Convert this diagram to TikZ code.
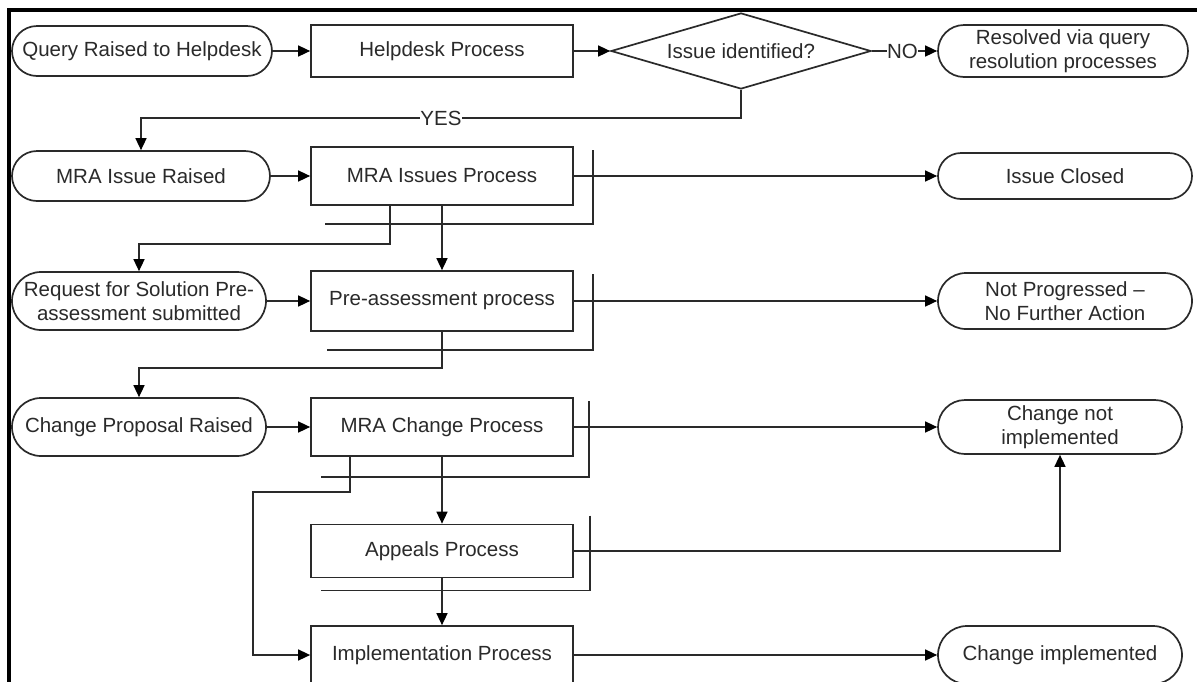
\documentclass[tikz,border=0pt]{standalone}
\usepackage{fontspec}
\setmainfont{Liberation Sans}
\usetikzlibrary{arrows.meta,shapes.geometric}

\definecolor{ink}{HTML}{2A2A2A}

\tikzset{
  base/.style={draw=ink, line width=1.7pt, text=ink,
    font=\fontsize{20.5}{23.5}\selectfont, align=center, inner sep=0pt},
  procbox/.style={base, rectangle, minimum width=262pt, minimum height=#1pt},
  term/.style n args={3}{base, rectangle, minimum width=#1pt,
    minimum height=#2pt, rounded corners=#3pt},
  decision/.style={base, diamond, aspect=3.4, minimum width=260pt, minimum height=76pt},
  conn/.style={draw=ink, line width=1.5pt,
    -{Triangle[length=12pt,width=11pt,fill=black,color=black]}},
  bracket/.style={draw=ink, line width=1.5pt},
  lbl/.style={fill=white, inner sep=0.5pt, text=ink, font=\fontsize{20.5}{23.5}\selectfont},
  frame/.style={draw=black, line width=3.5pt}
}

% side bracket drawn beside a process box:
% #1 node, #2/#3 shift of the upper end from the north east corner,
% #4/#5 shift of the lower-left end from the south west corner
\newcommand{\procbracket}[5]{%
  \draw[bracket] ([shift={(#2pt,#3pt)}]#1.north east)
    |- ([shift={(#4pt,#5pt)}]#1.south west);}

\begin{document}
\begin{tikzpicture}[x=1pt,y=-1pt]
  \fill[white] (0,0) rectangle (1197,681);
  \useasboundingbox (0,0) rectangle (1197,681);

  % page frame (top and left rules)
  \draw[frame] (9,700) -- (9,10) -- (1210,10);

  % row 1
  \node[term={260}{50}{25}] (q) at (142,51) {Query Raised to Helpdesk};
  \node[procbox=52] (hp) at (442,51) {Helpdesk Process};
  \node[decision] (dec) at (741,51) {Issue identified?};
  \node[term={250}{52}{26}] (res) at (1063,51) {Resolved via query\\resolution processes};

  % row 2
  \node[term={258}{50}{25}] (mir) at (141,176) {MRA Issue Raised};
  \node[procbox=58] (mip) at (442,176) {MRA Issues Process};
  \node[term={254}{46}{23}] (ic) at (1065,176) {Issue Closed};

  % row 3
  \node[term={254}{58}{29}] (rfs) at (139,301) {Request for Solution Pre-\\assessment submitted};
  \node[procbox=60] (pap) at (442,301) {Pre-assessment process};
  \node[term={254}{56}{28}] (np) at (1065,301) {Not Progressed –\\No Further Action};

  % row 4
  \node[term={254}{58}{29}] (cpr) at (139,427) {Change Proposal Raised};
  \node[procbox=58] (mcp) at (442,427) {MRA Change Process};
  \node[term={244}{54}{27}] (cni) at (1060,427) {Change not\\implemented};

  % rows 5 and 6
  \node[procbox=53] (ap) at (442,551) {Appeals Process};
  \node[procbox=58] (imp) at (442,655) {Implementation Process};
  \node[term={244}{58}{29}] (ci) at (1060,655) {Change implemented};

  % side brackets
  \procbracket{mip}{19}{-4}{15}{-18}
  \procbracket{pap}{19}{-4}{17}{-18}
  \procbracket{mcp}{15}{-4}{11}{-20}
  \procbracket{ap}{16}{8}{11}{-12}

  % connectors, row 1
  \draw[conn] (q) -- (hp);
  \draw[conn] (hp) -- (dec);
  \draw[conn] (dec.east) -- node[lbl, xshift=-2pt] {NO} (res.west);
  \draw[conn] (dec.south) -- (dec.south |- 0,118)
    -- node[lbl] {YES} (mir.north |- 0,118) -- (mir.north);

  % connectors, row 2
  \draw[conn] (mir) -- (mip);
  \draw[conn] (mip.east) -- (ic.west);
  \draw[conn] ([xshift=-52pt]mip.south) -- ++(0,-38pt) -| (rfs.north);
  \draw[conn] (mip.south) -- (pap.north);

  % connectors, row 3
  \draw[conn] (rfs.east) -- (pap.west);
  \draw[conn] (pap.east) -- (np.west);
  \draw[conn] (pap.south) -- ++(0,-36pt) -| (cpr.north);

  % connectors, row 4 and below
  \draw[conn] (cpr) -- (mcp);
  \draw[conn] (mcp.east) -- (cni.west);
  \draw[conn] (mcp.south) -- (ap.north);
  \draw[conn] ([xshift=-92pt]mcp.south) -- ++(0,-35pt) -- ++(-97pt,0) |- (imp.west);
  \draw[conn] (ap.east) -| (cni.south);
  \draw[conn] (ap.south) -- (imp.north);
  \draw[conn] (imp.east) -- (ci.west);
\end{tikzpicture}
\end{document}
